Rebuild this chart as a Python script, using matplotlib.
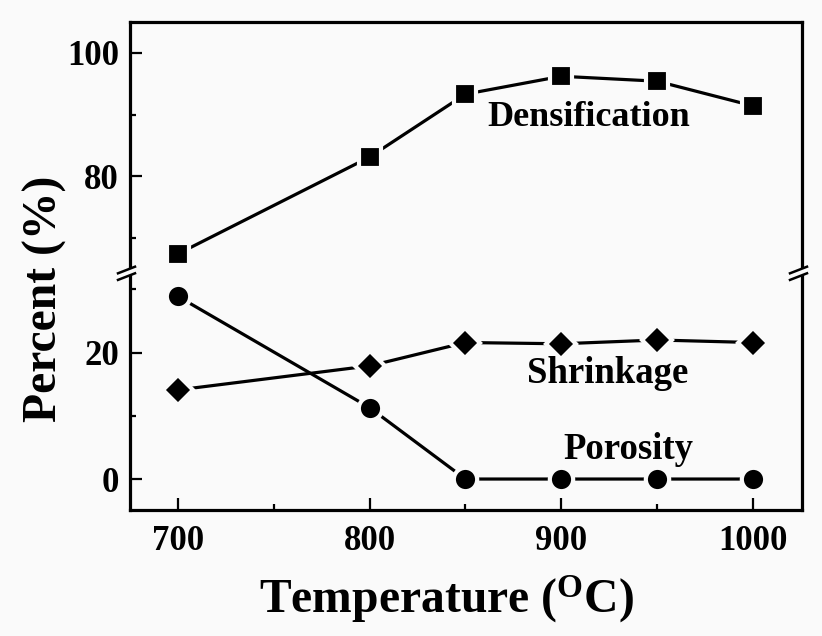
import matplotlib
matplotlib.use("Agg")
import matplotlib.pyplot as plt
from matplotlib.lines import Line2D
from matplotlib.patches import Polygon
from matplotlib.ticker import MultipleLocator

# Sintering data
temperature = [700, 800, 850, 900, 950, 1000]
densification = [67.4, 83.1, 93.3, 96.2, 95.4, 91.4]
shrinkage = [14.1, 17.9, 21.6, 21.4, 22.0, 21.6]
porosity = [28.9, 11.3, 0.0, 0.0, 0.0, 0.0]

series_labels = ["Densification", "Shrinkage", "Porosity"]
xlabel = r"Temperature ($^{\mathbf{O}}$C)"
ylabel = "Percent (%)"

BG = "#fafafa"
plt.rcParams.update({
    "font.family": "Liberation Serif",
    "font.weight": "bold",
    "mathtext.fontset": "custom",
    "mathtext.rm": "Liberation Serif:bold",
    "mathtext.bf": "Liberation Serif:bold",
    "mathtext.it": "Liberation Serif:bold",
})

W, H = 822, 636
fig = plt.figure(figsize=(W / 100, H / 100), dpi=100, facecolor=BG)

def fx(px):
    return px / W

def fy(py):
    return 1 - py / H

left, right = 130, 802
top, brk, bottom = 22, 273, 510
ax_up = fig.add_axes([fx(left), fy(brk), fx(right - left), fy(top) - fy(brk)])
ax_lo = fig.add_axes([fx(left), fy(bottom), fx(right - left), fy(brk) - fy(bottom)])

LW = 2.3
for ax in (ax_up, ax_lo):
    ax.set_facecolor(BG)
    ax.set_xlim(675, 1025.6)
    for sp in ax.spines.values():
        sp.set_linewidth(LW)
    ax.xaxis.set_major_locator(MultipleLocator(100))
    ax.xaxis.set_minor_locator(MultipleLocator(50))
    ax.tick_params(which="both", direction="in", width=1.6, labelsize=25,
                   top=False, right=False)
    ax.tick_params(which="major", length=8.5)
    ax.tick_params(which="minor", length=4.2)
    ax.tick_params(axis="y", pad=8.0)
    ax.tick_params(axis="x", pad=10.5)

ax_up.set_ylim(64.3, 105.0)
ax_up.yaxis.set_major_locator(MultipleLocator(20))
ax_up.yaxis.set_minor_locator(MultipleLocator(10))
ax_up.spines["bottom"].set_visible(False)
ax_up.tick_params(axis="x", which="both", bottom=False, labelbottom=False)

ax_lo.set_ylim(-4.9, 32.6)
ax_lo.yaxis.set_major_locator(MultipleLocator(20))
ax_lo.yaxis.set_minor_locator(MultipleLocator(10))
ax_lo.spines["top"].set_visible(False)

common = dict(color="black", linewidth=LW, markeredgecolor=BG, markeredgewidth=3.0,
              markerfacecolor="black", clip_on=False)
ax_up.plot(temperature, densification, marker="s", markersize=15.5, **common)
ax_lo.plot(temperature, shrinkage, marker="D", markersize=14.8, **common)
ax_lo.plot(temperature, porosity, marker="o", markersize=16.8, **common)

ax_up.text(914.4, 88.1, series_labels[0], fontsize=26, ha="center", va="baseline")
ax_lo.text(924.3, 15.2, series_labels[1], fontsize=26.5, ha="center", va="baseline")
ax_lo.text(934.8, 3.1, series_labels[2], fontsize=26.5, ha="center", va="baseline")

fig.text(fx(447), fy(613), xlabel, fontsize=34.3, ha="center", va="baseline")
fig.text(fx(45), fy(299), ylabel, fontsize=34.3, rotation=90, ha="center", va="center")

# Axis-break marks on both vertical spines
cy = 273.3
for sx in (left, right):
    x0, x1 = sx - 12, sx + 5
    upper = [(x0, cy), (x1, cy - 6.6)]
    lower = [(x0, cy + 6.6), (x1, cy)]
    gap = Polygon([(fx(upper[0][0]), fy(upper[0][1])), (fx(upper[1][0]), fy(upper[1][1])),
                   (fx(lower[1][0]), fy(lower[1][1])), (fx(lower[0][0]), fy(lower[0][1]))],
                  closed=True, transform=fig.transFigure, facecolor=BG,
                  edgecolor="none", zorder=5)
    fig.patches.append(gap)
    for seg in (upper, lower):
        fig.lines.append(Line2D([fx(seg[0][0]), fx(seg[1][0])],
                                [fy(seg[0][1]), fy(seg[1][1])],
                                transform=fig.transFigure, color="black",
                                linewidth=1.8, zorder=6))

fig.savefig("out.png", dpi=100, facecolor=BG)
